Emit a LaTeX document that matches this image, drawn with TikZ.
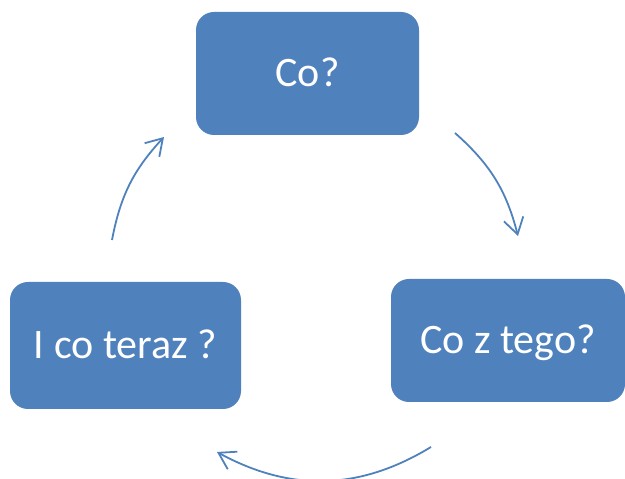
\documentclass[tikz,border=0pt]{standalone}
\usepackage{fontspec}
\setmainfont{Carlito}
\usetikzlibrary{arrows.meta}
\definecolor{offblue}{HTML}{4F81BD}
\tikzset{
  cyclebox/.style={fill=offblue, draw=none, rounded corners=18pt, inner sep=0pt,
    text=white, font=\fontsize{42}{50}\selectfont, text height=27pt, text depth=0pt},
  cyclearrow/.style={draw=offblue, line width=1.8pt,
    -{Straight Barb[length=16pt,width=20pt,line width=1.8pt]}}
}
\begin{document}
\begin{tikzpicture}[x=1pt,y=1pt]
\useasboundingbox (0,0) rectangle (625,479);
\node[cyclebox, minimum width=223pt, minimum height=123pt] (co) at (307.5,405.5) {Co?};
\node[cyclebox, minimum width=234pt, minimum height=123pt] (cozt) at (508,138.5) {Co z tego?};
\node[cyclebox, minimum width=231pt, minimum height=127pt] (icot) at (125.5,133.5) {I co teraz ?};
\coordinate (a1s) at (455,346);
\coordinate (a1e) at (518,243);
\coordinate (a2s) at (431,32);
\coordinate (a2e) at (217,27);
\coordinate (a3s) at (112,239);
\coordinate (a3e) at (164,342);
\draw[cyclearrow] (a1s) to[bend left=17] (a1e);
\draw[cyclearrow] (a2s) to[bend left=30] (a2e);
\draw[cyclearrow] (a3s) to[bend left=16] (a3e);
\end{tikzpicture}
\end{document}
